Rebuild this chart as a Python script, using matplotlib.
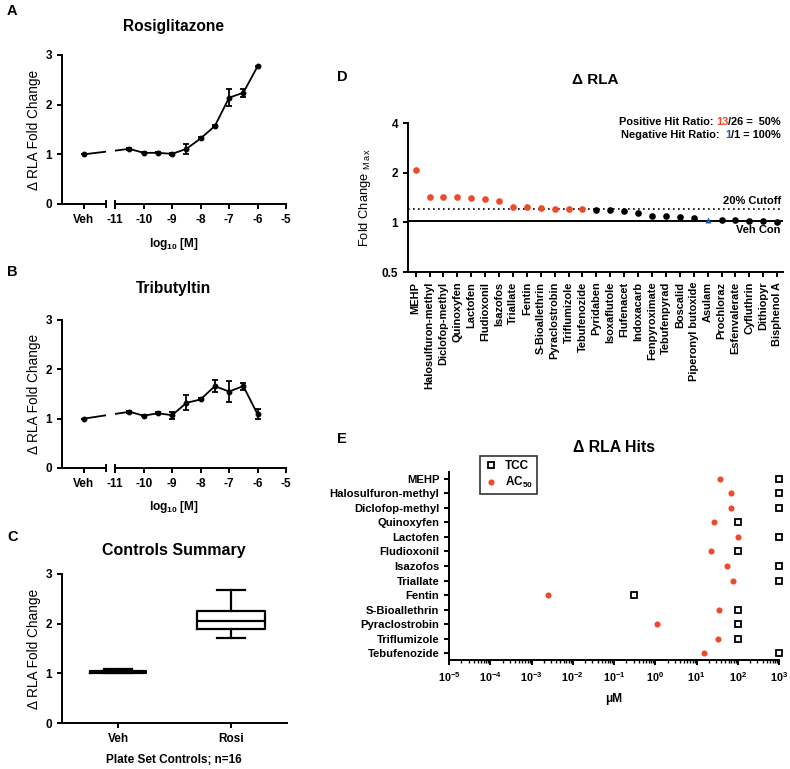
import numpy as np
import matplotlib
matplotlib.use('Agg')
import matplotlib.pyplot as plt
from matplotlib.ticker import FixedLocator, FuncFormatter, LogLocator, NullFormatter

plt.rcParams['font.family'] = ['Liberation Sans', 'DejaVu Sans']
plt.rcParams['mathtext.fontset'] = 'custom'
plt.rcParams['mathtext.rm'] = 'Liberation Sans'
plt.rcParams['mathtext.bf'] = 'Liberation Sans:bold'
plt.rcParams['mathtext.it'] = 'Liberation Sans:italic'
plt.rcParams['axes.linewidth'] = 1.4
plt.rcParams['xtick.major.width'] = 1.4
plt.rcParams['ytick.major.width'] = 1.4
plt.rcParams['xtick.major.size'] = 3.5
plt.rcParams['ytick.major.size'] = 3.5

# ---- data ----
# panels A/B: log10 molar concentration, mean and error
conc_log = [-10.5, -10, -9.5, -9, -8.5, -8, -7.5, -7, -6.5, -6]
veh_value = 1.0
rosi_mean = [1.11, 1.03, 1.03, 1.01, 1.11, 1.32, 1.57, 2.14, 2.24, 2.77]
rosi_err = [0.02, 0.01, 0.01, 0.02, 0.10, 0.02, 0.02, 0.17, 0.08, 0.01]
tbt_mean = [1.14, 1.06, 1.11, 1.07, 1.32, 1.39, 1.66, 1.55, 1.66, 1.09]
tbt_err = [0.02, 0.01, 0.02, 0.07, 0.15, 0.02, 0.12, 0.21, 0.07, 0.10]
dose_ticks = [-11, -10, -9, -8, -7, -6, -5]

# panel C: box summaries of plate controls
ctrl_names = ['Veh', 'Rosi']
ctrl_whislo = [1.00, 1.72]
ctrl_q1 = [1.00, 1.90]
ctrl_med = [1.02, 2.06]
ctrl_q3 = [1.04, 2.25]
ctrl_whishi = [1.08, 2.68]

# panel D: max fold change per chemical
d_names = ['MEHP', 'Halosulfuron-methyl', 'Diclofop-methyl', 'Quinoxyfen', 'Lactofen',
           'Fludioxonil', 'Isazofos', 'Triallate', 'Fentin', 'S-Bioallethrin',
           'Pyraclostrobin', 'Triflumizole', 'Tebufenozide', 'Pyridaben', 'Isoxaflutole',
           'Flufenacet', 'Indoxacarb', 'Fenpyroximate', 'Tebufenpyrad', 'Boscalid',
           'Piperonyl butoxide', 'Asulam', 'Prochloraz', 'Esfenvalerate', 'Cyfluthrin',
           'Dithiopyr', 'Bisphenol A']
d_fold = [2.09, 1.43, 1.43, 1.42, 1.40, 1.38, 1.34, 1.24, 1.23, 1.22, 1.21, 1.21, 1.20,
          1.19, 1.19, 1.17, 1.14, 1.09, 1.09, 1.07, 1.06, 1.03, 1.04, 1.03, 1.02, 1.02, 1.01]
d_status = ['pos'] * 13 + ['none'] * 8 + ['neg'] + ['none'] * 5
cutoff = 1.20
veh_con = 1.02

# panel E: potency of hits (uM)
e_names = ['MEHP', 'Halosulfuron-methyl', 'Diclofop-methyl', 'Quinoxyfen', 'Lactofen',
           'Fludioxonil', 'Isazofos', 'Triallate', 'Fentin', 'S-Bioallethrin',
           'Pyraclostrobin', 'Triflumizole', 'Tebufenozide']
e_tcc = [1000, 1000, 1000, 100, 1000, 100, 1000, 1000, 0.3, 100, 100, 100, 1000]
e_ac50 = [38, 67, 68, 26, 100, 23, 55, 75, 0.0025, 36, 1.08, 33, 15]

RED = '#EC4A2A'
BLUE = '#1E5BA6'
TICK_FS = 8.5

W, H = 790, 769
fig = plt.figure(figsize=(W / 100, H / 100), dpi=100)


def rect(l, t, r, b):
    return [l / W, 1 - b / H, (r - l) / W, (b - t) / H]


def px(x, y):
    return x / W, 1 - y / H


def dose_panel(top, bottom, means, errs, title, letter, letter_y, title_y, xlab_y):
    ax = fig.add_axes(rect(62, top, 286, bottom))
    veh_x = -12.11
    ax.set_xlim(-12.87, -5)
    ax.set_ylim(0, 3)
    xs = [veh_x] + conc_log
    ys = [veh_value] + means
    es = [0] + errs
    ax.errorbar(xs, ys, yerr=es, color='black', lw=1.3, marker='o', ms=3.2,
                capsize=2.2, elinewidth=1.3, capthick=1.3, zorder=2, clip_on=False)
    # axis break: blank out the connector and draw the split baseline
    ax.axvspan(-11.33, -11.0, color='white', zorder=2.5, lw=0)
    for s in ['top', 'right']:
        ax.spines[s].set_visible(False)
    ax.spines['bottom'].set_bounds(-11, -5)
    ax.plot([-12.87, -11.33], [0, 0], color='black', lw=1.4, clip_on=False, zorder=3,
            solid_capstyle='butt')
    for bx in (-11.33, -11.0):
        ax.plot([bx, bx], [-0.07, 0.07], color='black', lw=1.4, clip_on=False, zorder=3)
    ax.set_xticks([veh_x] + dose_ticks)
    ax.set_xticklabels(['Veh'] + [str(t) for t in dose_ticks], fontsize=TICK_FS, fontweight='bold')
    ax.set_yticks([0, 1, 2, 3])
    ax.set_yticklabels(['0', '1', '2', '3'], fontsize=TICK_FS, fontweight='bold')
    ax.set_ylabel('\u0394 RLA Fold Change', fontsize=9.8, labelpad=3)
    fig.text(*px(174, xlab_y), r'log$_{\mathbf{10}}$ [M]', fontsize=8.6, fontweight='bold',
             ha='center', va='center')
    fig.text(*px(174, title_y), title, fontsize=11.2, fontweight='bold', ha='center', va='center')
    fig.text(*px(7, letter_y), letter, fontsize=10.5, fontweight='bold', ha='left', va='center')
    return ax


dose_panel(55, 204, rosi_mean, rosi_err, 'Rosiglitazone', 'A', 11, 26, 244)
dose_panel(320, 468, tbt_mean, tbt_err, 'Tributyltin', 'B', 272, 288, 507)

# ---- C ----
axc = fig.add_axes(rect(62, 574, 287, 723))
stats = []
for i in range(len(ctrl_names)):
    stats.append(dict(med=ctrl_med[i], q1=ctrl_q1[i], q3=ctrl_q3[i],
                      whislo=ctrl_whislo[i], whishi=ctrl_whishi[i], fliers=[], label=ctrl_names[i]))
lp = dict(color='black', linewidth=1.6)
axc.bxp(stats, positions=[1, 2], widths=[0.5, 0.6], capwidths=[0.25, 0.25],
        boxprops=lp, medianprops=lp, whiskerprops=lp, capprops=lp, showfliers=False)
axc.set_xlim(0.5, 2.5)
axc.set_ylim(0, 3)
for s in ['top', 'right']:
    axc.spines[s].set_visible(False)
axc.set_xticks([1, 2])
axc.set_xticklabels(ctrl_names, fontsize=TICK_FS, fontweight='bold')
axc.set_yticks([0, 1, 2, 3])
axc.set_yticklabels(['0', '1', '2', '3'], fontsize=TICK_FS, fontweight='bold')
axc.set_ylabel('\u0394 RLA Fold Change', fontsize=9.8, labelpad=3)
fig.text(*px(174, 760), 'Plate Set Controls; n=16', fontsize=8.5, fontweight='bold',
         ha='center', va='center')
fig.text(*px(174, 550), 'Controls Summary', fontsize=11.5, fontweight='bold', ha='center', va='center')
fig.text(*px(7, 537), 'C', fontsize=10.5, fontweight='bold', ha='left', va='center')

# ---- D ----
axd = fig.add_axes(rect(408, 123, 783, 272))
axd.set_yscale('log', base=2)
axd.set_ylim(0.5, 4)
axd.set_xlim(-0.55, len(d_names) - 1 + 0.42)
xd = np.arange(len(d_names))
fold = np.array(d_fold)
status = np.array(d_status)
axd.axhline(cutoff, color='black', lw=1.2, ls=(0, (1, 2)), zorder=1)
axd.axhline(veh_con, color='black', lw=1.4, zorder=1)
m = status == 'pos'
axd.plot(xd[m], fold[m], 'o', color=RED, ms=4.8, mec='none', zorder=3)
m = status == 'none'
axd.plot(xd[m], fold[m], 'o', color='black', ms=4.8, mec='none', zorder=3)
m = status == 'neg'
axd.plot(xd[m], fold[m], '^', color=BLUE, ms=4.8, mec='none', zorder=3)
for s in ['top', 'right']:
    axd.spines[s].set_visible(False)
axd.yaxis.set_major_locator(FixedLocator([0.5, 1, 2, 4]))
axd.yaxis.set_minor_locator(FixedLocator([]))
axd.set_yticklabels(['0.5', '1', '2', '4'], fontsize=TICK_FS, fontweight='bold')
axd.set_xticks(xd)
axd.set_xticklabels(d_names, rotation=90, fontsize=7.9, fontweight='bold')
axd.set_ylabel(r'Fold Change $_{\mathregular{M\,a\,x}}$', fontsize=9.3, labelpad=6)
fig.text(*px(595, 80), '\u0394 RLA', fontsize=11, fontweight='bold', ha='center', va='center')
fig.text(*px(337, 77), 'D', fontsize=10.5, fontweight='bold', ha='left', va='center')

# hit ratio annotations (multi-colour, chained from the right)
for yy, num, rest, col in [(122, '13', '/26 =  50%', RED), (135, '1', '/1 = 100%', BLUE)]:
    t3 = fig.text(*px(781, yy), rest, fontsize=7.9, fontweight='bold', ha='right', va='center')
    t2 = axd.annotate(num, xy=(0, 0.5), xycoords=t3, ha='right', va='center',
                      fontsize=7.9, fontweight='bold', color=col)
    label = 'Positive Hit Ratio: ' if num == '13' else 'Negative Hit Ratio:  '
    axd.annotate(label, xy=(0, 0.5), xycoords=t2, ha='right', va='center',
                 fontsize=7.9, fontweight='bold')
fig.text(*px(781, 201), '20% Cutoff', fontsize=8, fontweight='bold', ha='right', va='center')
fig.text(*px(781, 230), 'Veh Con', fontsize=8, fontweight='bold', ha='right', va='center')

# ---- E ----
axe = fig.add_axes(rect(449, 472, 779, 660))
axe.set_xscale('log')
axe.set_xlim(1e-5, 1e3)
ye = np.arange(len(e_names))
axe.set_ylim(len(e_names) - 1 + 0.48, -0.48)
axe.plot(e_tcc, ye, 's', mfc='white', mec='black', mew=1.3, ms=5, clip_on=False,
         zorder=3, label='TCC')
axe.plot(e_ac50, ye, 'o', color=RED, ms=4.4, mec='none', clip_on=False, zorder=3,
         label=r'AC$_{\mathbf{50}}$')
for s in ['top', 'right']:
    axe.spines[s].set_visible(False)
axe.set_yticks(ye)
axe.set_yticklabels(e_names, fontsize=8.1, fontweight='bold')
axe.xaxis.set_major_locator(LogLocator(base=10, numticks=20))
axe.xaxis.set_minor_locator(LogLocator(base=10, subs=np.arange(2, 10), numticks=100))
axe.xaxis.set_minor_formatter(NullFormatter())
axe.xaxis.set_major_formatter(FuncFormatter(lambda v, p: r'$\mathbf{10^{%d}}$' % round(np.log10(v))))
axe.tick_params(axis='x', which='major', labelsize=7.8)
axe.tick_params(axis='x', which='minor', length=2, width=1)
fig.text(*px(614, 699), '\u03bcM', fontsize=8.5, fontweight='bold', ha='center', va='center')
fig.text(*px(614, 447), '\u0394 RLA Hits', fontsize=11.4, fontweight='bold', ha='center', va='center')
fig.text(*px(337, 439), 'E', fontsize=10.5, fontweight='bold', ha='left', va='center')
leg = axe.legend(loc='upper left', bbox_to_anchor=(0.076, 1.117), frameon=True,
                 fancybox=False, edgecolor='black', handletextpad=0.6, borderpad=0.35,
                 labelspacing=0.25, handlelength=1.2, prop={'weight': 'bold', 'size': 8.5})
leg.get_frame().set_linewidth(1.2)

fig.savefig('out.png', dpi=100)
